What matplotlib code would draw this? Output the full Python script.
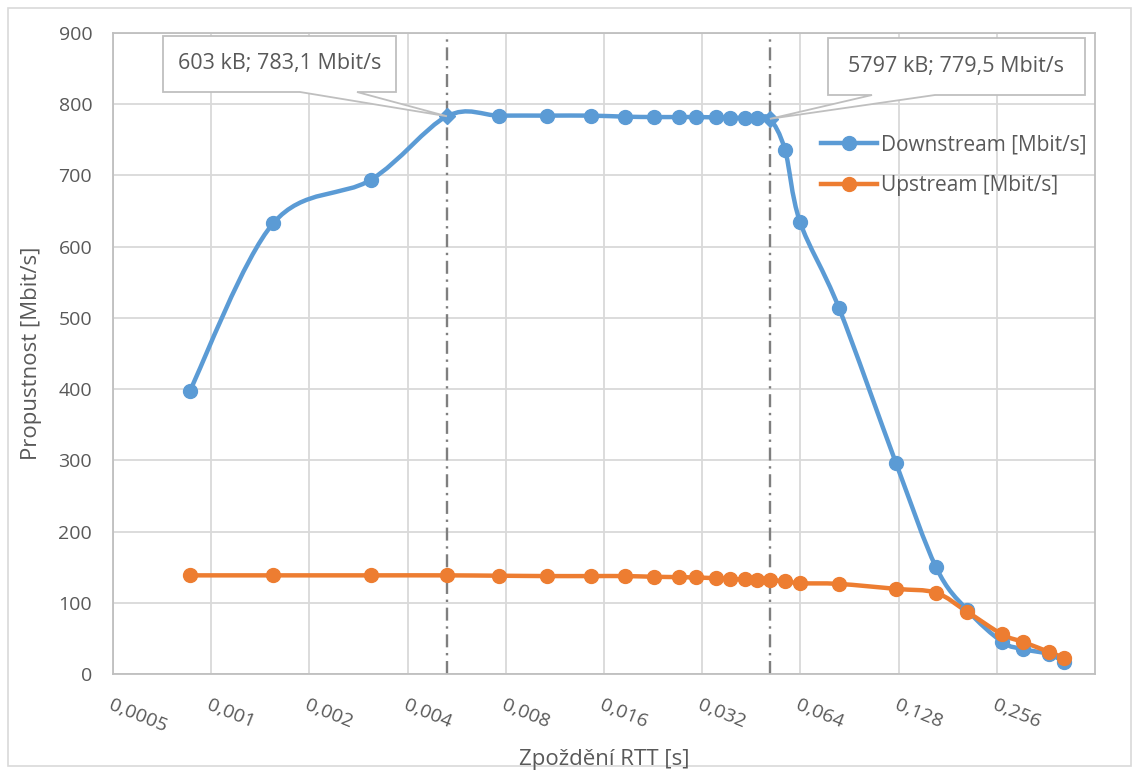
import matplotlib

matplotlib.use("Agg")

import matplotlib.pyplot as plt
import numpy as np
from matplotlib.lines import Line2D
from matplotlib.patches import PathPatch, Polygon, Rectangle
from matplotlib.path import Path
from matplotlib.ticker import FixedLocator, NullLocator

# --- data --------------------------------------------------------------------
rtt_s = [0.000861, 0.00155, 0.00309, 0.00528, 0.00763, 0.0107, 0.0146,
         0.0186, 0.0228, 0.0272, 0.0306, 0.0353, 0.0389, 0.0433, 0.0471,
         0.0516, 0.0574, 0.0638, 0.0840, 0.1257, 0.1667, 0.2075, 0.266,
         0.308, 0.370, 0.411]
downstream = [398, 633, 694, 783.1, 784, 784, 784, 782.5, 782, 782, 782,
              781.5, 781, 781, 780.5, 779.5, 736, 635, 514, 296, 150, 90,
              45, 35, 28, 17]
upstream = [138.5, 138.5, 138.5, 138.5, 138, 137.5, 137.5, 137.5, 136.5,
            136, 135.5, 134.5, 133.5, 133, 132.5, 131.5, 130.5, 127.5, 126.5,
            119.5, 114, 87.5, 55.5, 45, 31, 23]
highlight_idx = [3, 15]
callout_texts = ["603 kB; 783,1 Mbit/s", "5797 kB; 779,5 Mbit/s"]
x_ticks = [0.0005, 0.001, 0.002, 0.004, 0.008, 0.016, 0.032, 0.064, 0.128, 0.256]
x_ticklabels = ["0,0005", "0,001", "0,002", "0,004", "0,008", "0,016",
                "0,032", "0,064", "0,128", "0,256"]

BLUE = "#5B9BD5"
ORANGE = "#ED7D31"
TXT = "#595959"
GRID = "#d9d9d9"
EDGE = "#bfbfbf"

plt.rcParams["font.family"] = ["Open Sans", "DejaVu Sans"]

W, H = 1139, 774
fig = plt.figure(figsize=(W / 100, H / 100), dpi=100)
L, R, T, B = 113, 1095, 33, 674
ax = fig.add_axes([L / W, 1 - B / H, (R - L) / W, (B - T) / H])


def smooth_path(xs, ys):
    """Excel-like smoothed line: cubic Beziers in (log2 x, y) space."""
    pts = np.column_stack([np.log2(xs), np.asarray(ys, float)])
    ext = np.vstack([pts[0], pts, pts[-1]])
    verts = [pts[0]]
    codes = [Path.MOVETO]
    for i in range(len(pts) - 1):
        p0, p1, p2, p3 = ext[i], ext[i + 1], ext[i + 2], ext[i + 3]
        verts += [p1 + (p2 - p0) / 6, p2 - (p3 - p1) / 6, p2]
        codes += [Path.CURVE4] * 3
    verts = np.array(verts)
    verts[:, 0] = 2 ** verts[:, 0]
    return Path(verts, codes)


ax.set_xscale("log", base=2)
ax.set_xlim(0.0005, 0.512)
ax.set_ylim(0, 900)

# vertical dash-dot markers
for i in highlight_idx:
    ax.axvline(rtt_s[i], color="#7f7f7f", lw=1.7,
               linestyle=(0, (5.5, 2.4, 1, 2.4)), zorder=2)

for ys, col in [(downstream, BLUE), (upstream, ORANGE)]:
    ax.add_patch(PathPatch(smooth_path(rtt_s, ys), fill=False, edgecolor=col,
                           lw=3.2, capstyle="round", joinstyle="round",
                           zorder=3))

circ = [i for i in range(len(rtt_s)) if i not in highlight_idx]
ax.plot([rtt_s[i] for i in circ], [downstream[i] for i in circ], "o",
        color=BLUE, ms=10, zorder=4)
ax.plot([rtt_s[i] for i in highlight_idx],
        [downstream[i] for i in highlight_idx], "D", color=BLUE, ms=8,
        zorder=4)
ax.plot(rtt_s, upstream, "o", color=ORANGE, ms=10, zorder=5)

# axes styling
ax.xaxis.set_major_locator(FixedLocator(x_ticks))
ax.xaxis.set_minor_locator(NullLocator())
ax.set_xticklabels(x_ticklabels, rotation=-22, ha="left", va="top",
                   rotation_mode="anchor")
ax.set_yticks(range(0, 901, 100))
ax.tick_params(axis="both", length=0, colors=TXT, labelsize=14)
ax.tick_params(axis="x", pad=16)
ax.tick_params(axis="y", pad=15)
ax.grid(True, color=GRID, lw=1.3)
ax.set_axisbelow(True)
for s in ax.spines.values():
    s.set_color(EDGE)
    s.set_linewidth(1.3)

fig.text(604 / W, 1 - 759 / H, "Zpoždění RTT [s]", ha="center",
         va="center", fontsize=16, color=TXT)
fig.text(32 / W, 1 - 353 / H, "Propustnost [Mbit/s]", ha="center",
         va="center", rotation=90, fontsize=16, color=TXT)

# legend
handles = [
    Line2D([], [], color=BLUE, lw=3.2, marker="o", ms=10),
    Line2D([], [], color=ORANGE, lw=3.2, marker="o", ms=10),
]
ax.legend(handles, ["Downstream [Mbit/s]", "Upstream [Mbit/s]"],
          loc="center left", bbox_to_anchor=(821 / W, 1 - 165 / H),
          bbox_transform=fig.transFigure, frameon=False, fontsize=15,
          labelcolor=TXT, handlelength=2.7, handletextpad=0.2,
          labelspacing=0.95, borderpad=0, borderaxespad=0)

# callouts (box + wedge pointing at the data point)
boxes = [(163, 396, 36, 92, 300, 357), (828, 1085, 38, 95, 872, 935)]
to_fig = fig.transFigure.inverted()
for (bl, br, bt, bb, w0, w1), i, txt in zip(boxes, highlight_idx,
                                            callout_texts):
    apex = to_fig.transform(ax.transData.transform((rtt_s[i], downstream[i])))
    verts = [(bl / W, 1 - bt / H), (br / W, 1 - bt / H),
             (br / W, 1 - bb / H), (w1 / W, 1 - bb / H), tuple(apex),
             (w0 / W, 1 - bb / H), (bl / W, 1 - bb / H)]
    fig.patches.append(Polygon(verts, closed=True, facecolor="white",
                               edgecolor=EDGE, lw=1.3,
                               transform=fig.transFigure, zorder=6))
    fig.text((bl + br) / 2 / W, 1 - (bt + bb) / 2 / H, txt, ha="center",
             va="center", fontsize=15.5, color=TXT, zorder=7)

# chart area border
fig.patches.append(Rectangle((8 / W, 8 / H), 1 - 16 / W, 1 - 16 / H,
                             fill=False, edgecolor=GRID, lw=1.2,
                             transform=fig.transFigure))

fig.savefig("out.png", dpi=100)
